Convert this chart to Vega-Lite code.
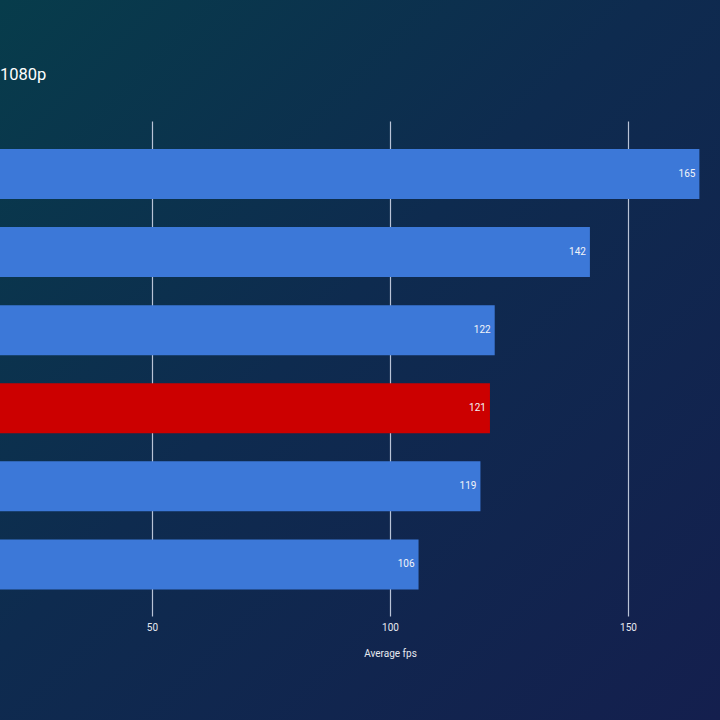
{
  "$schema": "https://vega.github.io/schema/vega-lite/v6.json",
  "width": 720,
  "height": 720,
  "autosize": {"type": "none"},
  "padding": 0,
  "background": "#0f2a4d",
  "config": {
    "font": "Roboto",
    "view": {
      "stroke": null,
      "fill": {
        "gradient": "linear",
        "x1": 0, "y1": 0, "x2": 1, "y2": 1,
        "stops": [
          {"offset": 0, "color": "#073c4b"},
          {"offset": 0.45, "color": "#0e2b4f"},
          {"offset": 1, "color": "#141f4e"}
        ]
      }
    }
  },
  "title": {
    "text": "1080p",
    "anchor": "start",
    "orient": "top",
    "frame": "group",
    "offset": -83,
    "fontSize": 16.5,
    "fontWeight": "normal",
    "font": "Roboto",
    "color": "#ffffff"
  },
  "data": {
    "values": [
      {"gpu": "GPU 1", "fps": 165, "reviewed": "no"},
      {"gpu": "GPU 2", "fps": 142, "reviewed": "no"},
      {"gpu": "GPU 3", "fps": 122, "reviewed": "no"},
      {"gpu": "GPU 4 (reviewed)", "fps": 121, "reviewed": "yes"},
      {"gpu": "GPU 5", "fps": 119, "reviewed": "no"},
      {"gpu": "GPU 6", "fps": 106, "reviewed": "no"}
    ]
  },
  "encoding": {
    "y": {
      "field": "gpu",
      "type": "nominal",
      "sort": null,
      "axis": null,
      "scale": {"range": [104, 599], "paddingInner": 0.36, "paddingOuter": 0.35, "align": 0.824}
    }
  },
  "layer": [
    {
      "mark": {"type": "bar", "clip": true},
      "encoding": {
        "x": {
          "field": "fps",
          "type": "quantitative",
          "scale": {"domain": [18.067, 169.33], "nice": false, "zero": false},
          "axis": {
            "values": [50, 100, 150],
            "grid": true,
            "gridColor": "#b9c3d6",
            "gridWidth": 1.2,
            "domain": false,
            "ticks": false,
            "offset": -104,
            "labelPadding": 6,
            "labelFontSize": 10,
            "labelColor": "#e6e9f0",
            "labelFont": "Roboto",
            "title": "Average fps",
            "titleX": 390,
            "titleFontSize": 10,
            "titleFontWeight": "normal",
            "titleColor": "#e6e9f0",
            "titleFont": "Roboto",
            "titlePadding": 16
          }
        },
        "color": {
          "field": "reviewed",
          "type": "nominal",
          "scale": {"domain": ["no", "yes"], "range": ["#3c78d8", "#cc0000"]},
          "legend": null
        }
      }
    },
    {
      "mark": {"type": "text", "align": "right", "baseline": "middle", "dx": -4, "fontSize": 10, "font": "Roboto", "color": "#f2f4f8"},
      "encoding": {
        "x": {"field": "fps", "type": "quantitative"},
        "text": {"field": "fps", "type": "quantitative"}
      }
    }
  ]
}
